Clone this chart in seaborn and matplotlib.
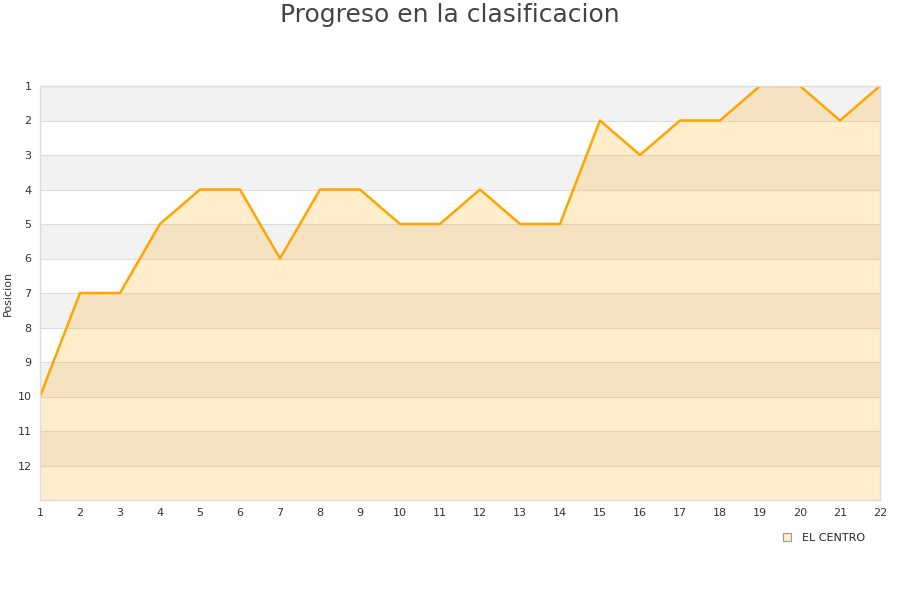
import pandas as pd
import numpy as np
import matplotlib
matplotlib.use('Agg')
import matplotlib.pyplot as plt
import seaborn as sns
from matplotlib.patches import Patch

# Datos de la clasificacion (jornada -> posicion)
jornadas = list(range(1, 23))
posiciones = [10, 7, 7, 5, 4, 4, 6, 4, 4, 5, 5, 4, 5, 5, 2, 3, 2, 2, 1, 1, 2, 1]
equipo = 'EL CENTRO'

df = pd.DataFrame({'Jornada': jornadas, 'Posicion': posiciones})

sns.set_style('white')
plt.rcParams['font.family'] = ['DejaVu Sans']

fig = plt.figure(figsize=(9, 6), dpi=100)
ax = fig.add_axes([40 / 900, 100 / 600, 840 / 900, 414 / 600])

# franjas alternas grises
for k in range(1, 13, 2):
    ax.axhspan(k, k + 1, color='#f2f2f2', zorder=0, lw=0)
for k in range(1, 13):
    ax.axhline(k, color='#dddddd', lw=0.8, zorder=0.5)

ax.fill_between(df['Jornada'], df['Posicion'], 13, color='#ffa500', alpha=0.2, lw=0, zorder=1)
sns.lineplot(data=df, x='Jornada', y='Posicion', color='#ffa500', lw=1.8, ax=ax, zorder=2)

ax.set_xlim(1, 22)
ax.set_ylim(13, 1)
ax.set_xticks(jornadas)
ax.set_yticks(range(1, 13))
ax.tick_params(axis='both', labelsize=8, colors='#333333', length=0, pad=6)
ax.set_xlabel('')
ax.set_ylabel('Posicion', fontsize=8, color='#333333', labelpad=3)
for s in ax.spines.values():
    s.set_color('#dddddd')
    s.set_linewidth(1)

fig.suptitle('Progreso en la clasificacion', fontsize=18, color='#444444', y=0.995)

ax.legend(handles=[Patch(facecolor='#ffedcc', edgecolor='#999999', lw=0.8, label=equipo)],
          loc='upper right', bbox_to_anchor=(0.994, -0.055), frameon=False, fontsize=8,
          handlelength=0.7, handleheight=0.7, handletextpad=1.0)

fig.savefig('out.png', dpi=100)
